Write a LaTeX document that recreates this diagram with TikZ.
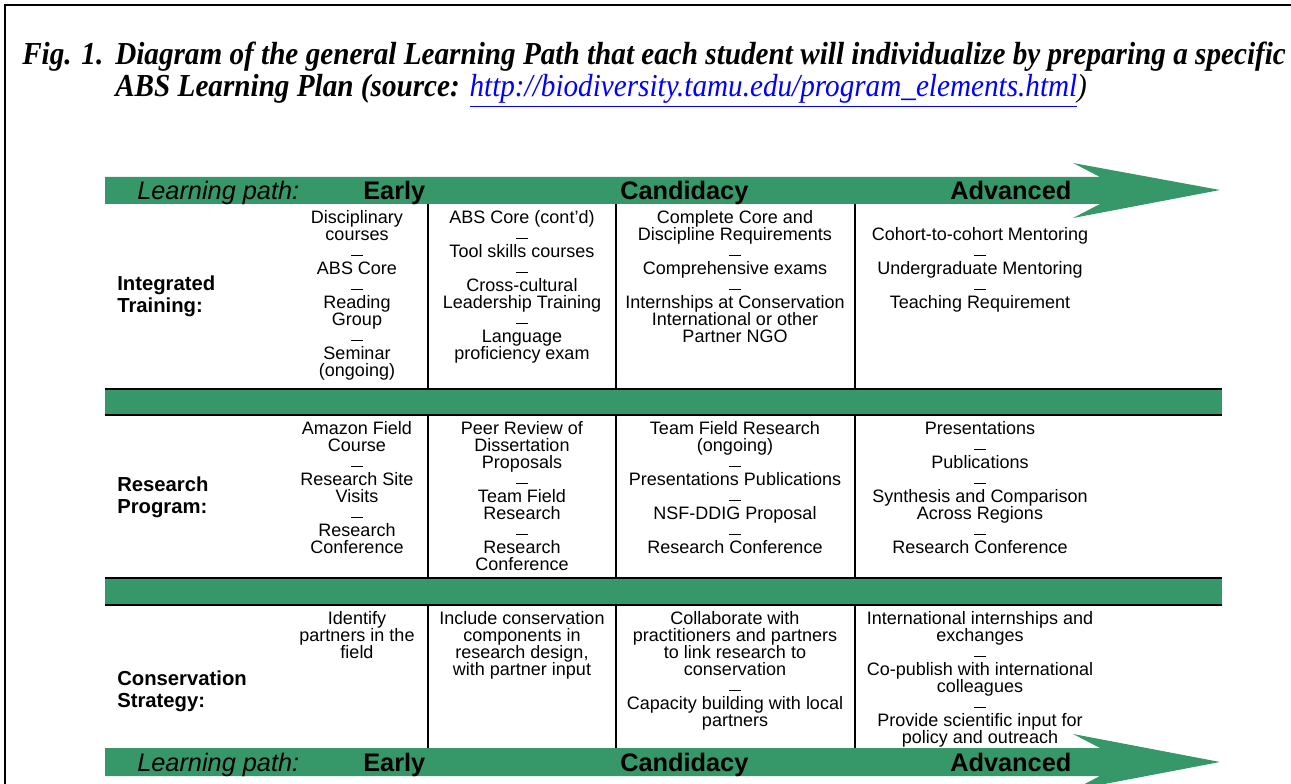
\documentclass[tikz,border=0pt]{standalone}
\usepackage{fontspec}
\setmainfont{Liberation Sans}
\newfontfamily\capfont[FakeStretch=0.912]{Liberation Serif}
\usetikzlibrary{positioning}

\definecolor{pathgreen}{RGB}{54,151,104}
\definecolor{linkblue}{RGB}{0,0,255}

% short rule between the items of a cell
\newcommand{\stepdash}{\rule[1pt]{8.5pt}{0.9pt}}

\begin{document}
\begin{tikzpicture}[
  x=0.75pt, y=-0.75pt,
  caption/.style={anchor=base west, inner sep=0pt,
                  font={\capfont\fontsize{24}{24}\selectfont\bfseries\itshape}},
  cell/.style={anchor=north, align=center, inner sep=0pt,
               font={\fontsize{13.5}{12.75}\selectfont}},
  rowlabel/.style={anchor=west, align=left, inner sep=0pt,
                   font={\fontsize{15.2}{16.5}\selectfont\bfseries}},
  stage/.style={anchor=base west, inner sep=0pt,
                font={\fontsize{19}{19}\selectfont\bfseries}},
  pathlabel/.style={anchor=base west, inner sep=0pt,
                    font={\fontsize{19}{19}\selectfont\itshape}},
  band/.style={fill=pathgreen},
  rule/.style={draw=black, line width=2.2pt},
  divider/.style={draw=black, line width=1.6pt},
]
\useasboundingbox (0,0) rectangle (1291,784);

% page frame
\draw[line width=2.2pt] (5,784) -- (5,5) -- (1291,5);

% caption
\node[caption] (figno) at (22,65) {Fig. 1.};
\node[caption] (capline) at (115,65)
  {Diagram of the general Learning Path that each student will individualize by preparing a specific};
\node[caption] (capsrc) at (115,97)
  {ABS Learning Plan (source: {\mdseries\color{linkblue}\underline{http://biodiversity.tamu.edu/program\_elements.html}}{\mdseries)}};

% learning path arrows
\fill[band] (105,177) -- (1100,177) -- (1073,163) -- (1220,190) -- (1073,218)
  -- (1100,204) -- (105,204) -- cycle;
\fill[band] (105,748) -- (1100,748) -- (1073,734) -- (1220,762) -- (1073,790)
  -- (1100,776) -- (105,776) -- cycle;

\node[pathlabel] (pathtop) at (137,200) {Learning path:};
\node[stage] (earlytop) at (363,200) {Early};
\node[stage] (candtop) at (620,200) {Candidacy};
\node[stage] (advtop) at (950,200) {Advanced};
\node[pathlabel] (pathbot) at (137,771) {Learning path:};
\node[stage] (earlybot) at (363,771) {Early};
\node[stage] (candbot) at (620,771) {Candidacy};
\node[stage] (advbot) at (950,771) {Advanced};

% separator bands
\fill[band] (105,389) rectangle (1222,415);
\draw[rule] (105,389) -- (1222,389);
\draw[rule] (105,415) -- (1222,415);
\fill[band] (105,578) rectangle (1222,605);
\draw[rule] (105,578) -- (1222,578);
\draw[rule] (105,605) -- (1222,605);

% column dividers
\draw[divider] (428,204) -- (428,389) (616,204) -- (616,389) (855,204) -- (855,389);
\draw[divider] (428,415) -- (428,578) (616,415) -- (616,578) (855,415) -- (855,578);
\draw[divider] (428,605) -- (428,748) (616,605) -- (616,748) (855,605) -- (855,748);

% row labels
\node[rowlabel] (training) at (117,296) {Integrated\\Training:};
\node[rowlabel] (research) at (117,497) {Research\\Program:};
\node[rowlabel] (conserv) at (117,691) {Conservation\\Strategy:};

% integrated training
\node[cell] (trainEarly) at (357,210) {Disciplinary\\courses\\\stepdash\\ABS Core\\\stepdash\\Reading\\Group\\\stepdash\\Seminar\\(ongoing)};
\node[cell] (trainMid) at (522,210) {ABS Core (cont'd)\\\stepdash\\Tool skills courses\\\stepdash\\Cross-cultural\\Leadership Training\\\stepdash\\Language\\proficiency exam};
\node[cell] (trainCand) at (735,210) {Complete Core and\\Discipline Requirements\\\stepdash\\Comprehensive exams\\\stepdash\\Internships at Conservation\\International or other\\Partner NGO};
\node[cell] (trainAdv) at (980,227) {Cohort-to-cohort Mentoring\\\stepdash\\Undergraduate Mentoring\\\stepdash\\Teaching Requirement};

% research program
\node[cell] (resEarly) at (357,421) {Amazon Field\\Course\\\stepdash\\Research Site\\Visits\\\stepdash\\Research\\Conference};
\node[cell] (resMid) at (522,421) {Peer Review of\\Dissertation\\Proposals\\\stepdash\\Team Field\\Research\\\stepdash\\Research\\Conference};
\node[cell] (resCand) at (735,421) {Team Field Research\\(ongoing)\\\stepdash\\Presentations Publications\\\stepdash\\NSF-DDIG Proposal\\\stepdash\\Research Conference};
\node[cell] (resAdv) at (980,421) {Presentations\\\stepdash\\Publications\\\stepdash\\Synthesis and Comparison\\Across Regions\\\stepdash\\Research Conference};

% conservation strategy
\node[cell] (consEarly) at (357,611) {Identify\\partners in the\\field};
\node[cell] (consMid) at (522,611) {Include conservation\\components in\\research design,\\with partner input};
\node[cell] (consCand) at (735,611) {Collaborate with\\practitioners and partners\\to link research to\\conservation\\\stepdash\\Capacity building with local\\partners};
\node[cell] (consAdv) at (980,611) {International internships and\\exchanges\\\stepdash\\Co-publish with international\\colleagues\\\stepdash\\Provide scientific input for\\policy and outreach};
\end{tikzpicture}
\end{document}
